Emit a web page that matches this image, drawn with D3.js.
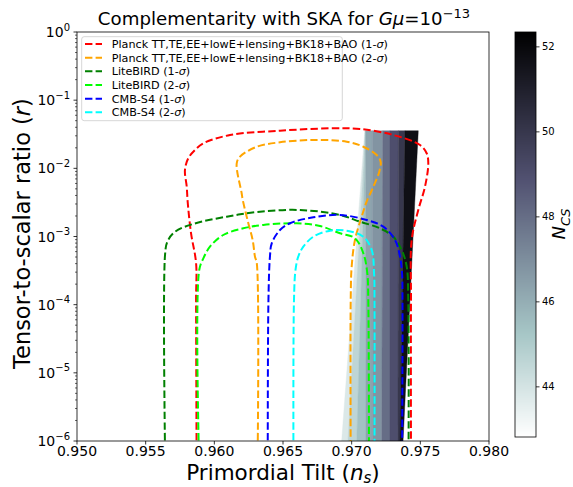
<!DOCTYPE html>
<html><head><meta charset="utf-8">
<script src="https://cdn.jsdelivr.net/npm/d3@7"></script>
<style>
body{margin:0;background:#fff}
svg{display:block}
text{font-family:"DejaVu Sans",sans-serif;fill:#000}
</style>
</head><body>
<svg id="c" width="573" height="487"></svg>
<script>
// ---------- data ----------
const xTicks = [0.950, 0.955, 0.960, 0.965, 0.970, 0.975, 0.980];
const yTickExps = [0, -1, -2, -3, -4, -5, -6];
const cbTicks = [44, 46, 48, 50, 52];
const cbRange = [42.82, 52.35];

const seriesLabels = [
  "Planck TT,TE,EE+lowE+lensing+BK18+BAO (1-",
  "Planck TT,TE,EE+lowE+lensing+BK18+BAO (2-",
  "LiteBIRD (1-", "LiteBIRD (2-", "CMB-S4 (1-", "CMB-S4 (2-"
];
const seriesColors = ["#ff0000", "#ffa500", "#008000", "#00ff00", "#0000ff", "#00ffff"];

// contour outlines: n_s and log10(r)
const planck1Ns   = [0.95871,0.95867,0.95867,0.95830,0.95806,0.95799,0.95786,0.95810,0.95859,0.95920,0.96114,0.96478,0.96842,0.97061,0.97303,0.97498,0.97546,0.97558,0.97534,0.97485,0.97437,0.97432,0.97432];
const planck1LogR = [-6.3,-3.931,-3.389,-2.948,-2.494,-2.269,-2.024,-1.853,-1.731,-1.633,-1.511,-1.448,-1.413,-1.423,-1.511,-1.658,-1.779,-1.926,-2.269,-2.611,-3.051,-3.931,-6.3];

const planck2Ns   = [0.96315,0.96309,0.96296,0.96279,0.96247,0.96207,0.96199,0.96163,0.96187,0.96309,0.96478,0.96721,0.96964,0.97085,0.97182,0.97211,0.97201,0.97158,0.97109,0.97073,0.97024,0.97000,0.96993,0.96993];
const planck2LogR = [-6.3,-3.389,-3.296,-3.051,-2.802,-2.464,-2.366,-1.926,-1.829,-1.683,-1.618,-1.584,-1.609,-1.683,-1.804,-1.903,-2.049,-2.269,-2.489,-2.709,-3.051,-3.443,-3.931,-6.3];

const lite1Ns   = [0.95642,0.95641,0.95658,0.95714,0.95847,0.96090,0.96333,0.96624,0.96915,0.97061,0.97206,0.97303,0.97364,0.97401,0.97412,0.97414];
const lite1LogR = [-6.3,-3.271,-3.076,-2.930,-2.816,-2.709,-2.636,-2.611,-2.684,-2.783,-2.880,-3.003,-3.198,-3.443,-3.931,-6.3];

const lite2Ns   = [0.95889,0.95890,0.95920,0.95968,0.96065,0.96211,0.96357,0.96600,0.96769,0.96915,0.97024,0.97085,0.97114,0.97121,0.97126];
const lite2LogR = [-6.3,-3.491,-3.320,-3.149,-2.978,-2.880,-2.831,-2.806,-2.846,-2.953,-3.026,-3.246,-3.540,-3.931,-6.3];

const s4aNs   = [0.96389,0.96394,0.96405,0.96418,0.96478,0.96551,0.96721,0.96915,0.97109,0.97230,0.97316,0.97352,0.97367,0.97370,0.97367];
const s4aLogR = [-6.3,-3.931,-3.296,-3.100,-2.905,-2.806,-2.718,-2.684,-2.758,-2.856,-3.051,-3.296,-3.540,-3.931,-6.3];

const s4bNs   = [0.96576,0.96580,0.96591,0.96611,0.96648,0.96721,0.96842,0.96964,0.97085,0.97146,0.97163,0.97166,0.97166];
const s4bLogR = [-6.3,-3.931,-3.491,-3.296,-3.149,-3.003,-2.915,-2.915,-3.003,-3.198,-3.540,-3.931,-6.3];

// N_CS shaded bands (SKA region): band values, edges at bottom and top of region
const ncsBands    = [43.8, 44.6, 45.4, 46.3, 46.8, 48.0, 49.0, 50.0, 51.7];
const edgesBottom = [0.96927,0.96973,0.97037,0.97104,0.97150,0.97219,0.97279,0.97337,0.97352,0.97374];
const edgesTop    = [0.97095,0.97099,0.97101,0.97103,0.97150,0.97226,0.97279,0.97340,0.97388,0.97485];
const regionR     = [1e-6, 0.0356];

// ---------- drawing ----------
const svg = d3.select("#c");
const L = 77, R = 489, T = 32, B = 441;
const x = d3.scaleLinear().domain([0.95, 0.98]).range([L, R]);
const y = d3.scaleLog().domain([1e-6, 1]).range([B, T]);

// bone_r colormap
const boneR = [[0,0],[0.746032,0.652778],[1,1]];
const boneG = [[0,0],[0.365079,0.319444],[0.746032,0.777778],[1,1]];
const boneB = [[0,0],[0.365079,0.444444],[1,1]];
function seg(a, v){
  for (let i=0;i<a.length-1;i++){
    if (v<=a[i+1][0]){const f=(v-a[i][0])/(a[i+1][0]-a[i][0]);return a[i][1]+f*(a[i+1][1]-a[i][1]);}
  }
  return a[a.length-1][1];
}
const cnorm = d3.scaleLinear().domain(cbRange).range([0,1]).clamp(true);
function cmap(n){
  const v = 1 - cnorm(n);
  return d3.rgb(seg(boneR,v)*255, seg(boneG,v)*255, seg(boneB,v)*255).formatHex();
}

svg.append("defs").append("clipPath").attr("id","clip")
  .append("rect").attr("x",L).attr("y",T).attr("width",R-L).attr("height",B-T);

const plot = svg.append("g").attr("clip-path","url(#clip)");

// shaded bands
ncsBands.forEach((n,i)=>{
  const pts = [
    [x(edgesBottom[i]), y(regionR[0])],
    [x(edgesTop[i]), y(regionR[1])],
    [x(edgesTop[i+1]), y(regionR[1])],
    [x(edgesBottom[i+1]), y(regionR[0])]
  ];
  plot.append("path").attr("d","M"+pts.map(p=>p.join(",")).join("L")+"Z")
    .attr("fill",cmap(n)).attr("stroke",cmap(n)).attr("stroke-width",0.4);
});

// contours
const series = [
  [planck1Ns, planck1LogR], [planck2Ns, planck2LogR],
  [lite1Ns, lite1LogR], [lite2Ns, lite2LogR],
  [s4aNs, s4aLogR], [s4bNs, s4bLogR]
];
const line = d3.line().x(d=>x(d[0])).y(d=>y(Math.pow(10,d[1]))).curve(d3.curveCatmullRom.alpha(0.5));
series.forEach((s,i)=>{
  const pts = s[0].map((v,j)=>[v, s[1][j]]);
  plot.append("path").attr("d", line(pts)).attr("fill","none")
    .attr("stroke", seriesColors[i]).attr("stroke-width",2)
    .attr("stroke-dasharray","7.4,3.2");
});

// frame
svg.append("rect").attr("x",L).attr("y",T).attr("width",R-L).attr("height",B-T)
  .attr("fill","none").attr("stroke","#000").attr("stroke-width",0.8);

// x axis
const xa = svg.append("g");
xTicks.forEach(t=>{
  xa.append("line").attr("x1",x(t)).attr("x2",x(t)).attr("y1",B).attr("y2",B+3.5).attr("stroke","#000").attr("stroke-width",0.8);
  xa.append("text").attr("x",x(t)).attr("y",B+15).attr("text-anchor","middle").attr("font-size",14).text(d3.format(".3f")(t));
});
// y axis
const ya = svg.append("g");
yTickExps.forEach(e=>{
  const yy = y(Math.pow(10,e));
  ya.append("line").attr("x1",L-3.5).attr("x2",L).attr("y1",yy).attr("y2",yy).attr("stroke","#000").attr("stroke-width",0.8);
  const tx = ya.append("text").attr("x",L-7).attr("y",yy+5).attr("text-anchor","end").attr("font-size",14);
  tx.append("tspan").text("10");
  tx.append("tspan").attr("dy",-6.5).attr("font-size",10).text(e===0?"0":"\u2212"+(-e));
  if (e>-6){
    for (let m=2;m<=9;m++){
      const ym = y(m*Math.pow(10,e-1));
      ya.append("line").attr("x1",L-2).attr("x2",L).attr("y1",ym).attr("y2",ym).attr("stroke","#000").attr("stroke-width",0.6);
    }
  }
});

// axis labels
const xl = svg.append("text").attr("x",(L+R)/2).attr("y",479.5).attr("text-anchor","middle").attr("font-size",21.5);
xl.append("tspan").text("Primordial Tilt (");
xl.append("tspan").attr("font-style","italic").text("n");
xl.append("tspan").attr("font-style","italic").attr("font-size",15).attr("dy",3.5).text("s");
xl.append("tspan").attr("dy",-3.5).text(")");

const yl = svg.append("text").attr("transform",`translate(30,${(T+B)/2-3}) rotate(-90)`).attr("text-anchor","middle").attr("font-size",22.5);
yl.append("tspan").text("Tensor-to-scalar ratio (");
yl.append("tspan").attr("font-style","italic").text("r");
yl.append("tspan").text(")");

// title
const tt = svg.append("text").attr("x",(L+R)/2+1).attr("y",25).attr("text-anchor","middle").attr("font-size",18.2);
tt.append("tspan").text("Complementarity with SKA for ");
tt.append("tspan").attr("font-style","italic").text("G\u03bc");
tt.append("tspan").text("=10");
tt.append("tspan").attr("dy",-7.5).attr("font-size",13).text("\u221213");

// legend
const lg = svg.append("g");
lg.append("rect").attr("x",81.7).attr("y",36.7).attr("width",260.6).attr("height",84).attr("rx",2.5)
  .attr("fill","#fff").attr("fill-opacity",0.8).attr("stroke","#cccccc").attr("stroke-width",0.8);
seriesLabels.forEach((s,i)=>{
  const yy = 44 + i*13.66;
  lg.append("line").attr("x1",85).attr("x2",102).attr("y1",yy).attr("y2",yy)
    .attr("stroke",seriesColors[i]).attr("stroke-width",2).attr("stroke-dasharray","7.4,3.2");
  const t = lg.append("text").attr("x",111.7).attr("y",yy+4).attr("font-size",11.2);
  t.append("tspan").text(s);
  t.append("tspan").attr("font-style","italic").text("\u03c3");
  t.append("tspan").text(")");
});

// colorbar
const cbL = 515, cbW = 21, cbT = 32, cbB = 437;
const cy = d3.scaleLinear().domain(cbRange).range([cbB, cbT]);
const cb = svg.append("g");
for (let p = cbT; p < cbB; p++){
  cb.append("rect").attr("x",cbL).attr("y",p).attr("width",cbW).attr("height",1.2).attr("fill",cmap(cy.invert(p+0.5)));
}
cb.append("rect").attr("x",cbL).attr("y",cbT).attr("width",cbW).attr("height",cbB-cbT)
  .attr("fill","none").attr("stroke","#000").attr("stroke-width",0.8);
cbTicks.forEach(t=>{
  cb.append("line").attr("x1",cbL+cbW).attr("x2",cbL+cbW+3.5).attr("y1",cy(t)).attr("y2",cy(t)).attr("stroke","#000").attr("stroke-width",0.8);
  cb.append("text").attr("x",cbL+cbW+6).attr("y",cy(t)+3.5).attr("font-size",10).text(t);
});
const cl = svg.append("text").attr("transform",`translate(565,224) rotate(-90)`).attr("text-anchor","middle").attr("font-size",18);
cl.append("tspan").attr("font-style","italic").text("N");
cl.append("tspan").attr("font-style","italic").attr("font-size",13).attr("dy",4.5).text("CS");
</script>
</body></html>
